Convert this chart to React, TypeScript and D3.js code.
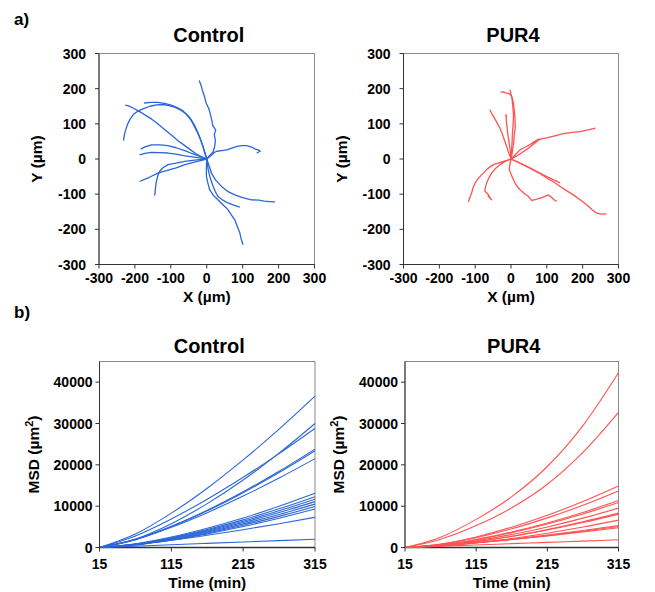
import React from 'react';
import * as d3 from 'd3';

// ---------- DATA ----------
const trackTicks = [-300, -200, -100, 0, 100, 200, 300];
const msdTimes = [15, 65, 115, 165, 215, 265, 315];
const msdTimeTicks = [15, 115, 215, 315];
const msdValueTicks = [0, 10000, 20000, 30000, 40000];

type P = [number, number];

const controlTracks: P[][] = [
  [[0,0],[8,10],[17,19],[22,35],[24,52],[21,70],[25,82],[17,95],[14,110],[9,132],[5,145],[-2,160],[-7,180],[-12,195],[-16,210],[-21,223]],
  [[0,0],[-15,6],[-30,15],[-45,26],[-61,38],[-80,52],[-96,66],[-108,76],[-125,90],[-140,103],[-154,114],[-170,124],[-182,132],[-191,137],[-205,145],[-218,151],[-227,153]],
  [[0,0],[-6,18],[-10,35],[-18,58],[-26,78],[-35,98],[-46,116],[-57,128],[-72,139],[-88,147],[-105,152],[-122,155],[-140,154],[-158,150],[-176,143],[-192,136],[-204,127],[-213,114],[-220,100],[-225,85],[-229,70],[-232,52]],
  [[0,0],[-4,15],[-10,33],[-16,52],[-24,71],[-33,90],[-43,109],[-55,125],[-66,137],[-82,146],[-99,153],[-118,158],[-136,161],[-155,161],[-168,160],[-175,159]],
  [[0,0],[-20,8],[-40,15],[-61,24],[-85,32],[-108,38],[-130,40],[-154,40],[-170,35],[-184,28]],
  [[0,0],[-20,3],[-40,6],[-61,9],[-85,14],[-108,17],[-130,18],[-154,19],[-172,16],[-187,12]],
  [[0,0],[-20,-5],[-40,-10],[-61,-16],[-85,-25],[-110,-32],[-136,-40],[-160,-52],[-187,-64]],
  [[0,0],[-20,-2],[-40,-4],[-61,-7],[-85,-12],[-108,-16],[-122,-25],[-131,-35],[-137,-50],[-141,-68],[-143,-85],[-145,-104]],
  [[0,0],[5,-15],[13,-40],[25,-60],[41,-78],[58,-92],[78,-102],[100,-110],[124,-116],[145,-117],[160,-120],[175,-121],[190,-122]],
  [[0,0],[2,-15],[4,-30],[10,-55],[18,-78],[24,-93],[31,-106],[45,-117],[59,-125],[75,-131],[92,-137]],
  [[0,0],[-1,-25],[-1,-49],[3,-68],[8,-87],[18,-103],[31,-116],[45,-130],[59,-144],[68,-158],[78,-173],[85,-192],[92,-210],[96,-228],[101,-244]],
  [[0,0],[12,10],[20,18],[28,22],[42,24],[56,26],[70,31],[84,36],[98,38],[111,38],[125,34],[135,28],[145,25],[149,22],[139,17]],
];

const pur4Tracks: P[][] = [
  [[0,0],[3,15],[5,31],[8,50],[9,69],[12,90],[11,117],[9,140],[6,164],[2,178],[-5,186],[-15,188],[-22,191],[-29,190]],
  [[0,0],[1,20],[3,45],[4,75],[6,100],[7,125],[5,150],[3,170],[0,185],[-3,197]],
  [[0,0],[-4,12],[-8,22],[-12,36],[-17,50],[-24,70],[-31,88],[-40,105],[-49,121],[-55,132],[-59,140]],
  [[0,0],[-2,22],[-5,45],[-8,65],[-11,90],[-13,110],[-14,126],[-12,118]],
  [[0,0],[12,12],[25,26],[40,34],[53,41],[72,53],[88,58],[100,60],[122,66],[146,72],[170,76],[193,78],[215,83],[236,88]],
  [[0,0],[15,8],[30,18],[45,28],[60,40],[72,50],[79,57],[70,52],[58,44]],
  [[0,0],[-25,-8],[-49,-16],[-66,-28],[-82,-45],[-92,-56],[-100,-68],[-106,-82],[-110,-97],[-115,-110],[-119,-122]],
  [[0,0],[-15,-6],[-31,-16],[-44,-28],[-54,-40],[-62,-54],[-68,-68],[-72,-82],[-73,-92],[-66,-98],[-63,-102],[-60,-108],[-54,-116],[-60,-110],[-65,-104]],
  [[0,0],[-3,-15],[-5,-30],[2,-48],[11,-68],[20,-82],[30,-92],[40,-100],[48,-106],[55,-114],[58,-118],[65,-116],[72,-114],[88,-109],[104,-102],[112,-108],[120,-116],[128,-121]],
  [[0,0],[20,-9],[44,-21],[66,-32],[90,-45],[110,-55],[125,-62],[137,-68]],
  [[0,0],[25,-12],[53,-26],[78,-40],[100,-54],[120,-66],[137,-78],[155,-90],[174,-102],[192,-115],[211,-130],[225,-143],[239,-154],[252,-157],[267,-156]],
];

const controlMsd: number[][] = [
  [0, 3260, 8310, 14350, 21190, 28620, 36600],
  [0, 2040, 5760, 10620, 16320, 22830, 30000],
  [0, 2800, 6910, 11690, 16990, 22720, 28800],
  [0, 1940, 5120, 9020, 13490, 18440, 23800],
  [0, 1900, 5030, 8870, 13270, 18130, 23400],
  [0, 1910, 4880, 8430, 12450, 16810, 21500],
  [0, 890, 2520, 4640, 7130, 9970, 13100],
  [0, 840, 2360, 4350, 6690, 9360, 12300],
  [0, 800, 2250, 4140, 6360, 8900, 11700],
  [0, 750, 2130, 3930, 6040, 8450, 11100],
  [0, 710, 2020, 3720, 5710, 7990, 10500],
  [0, 670, 1900, 3500, 5390, 7530, 9900],
  [0, 630, 1790, 3290, 5060, 7080, 9300],
  [0, 710, 1750, 2960, 4310, 5760, 7300],
  [0, 330, 670, 1000, 1330, 1670, 2000],
];

const pur4Msd: number[][] = [
  [0, 2500, 6800, 12300, 19600, 29500, 42300],
  [0, 2000, 5300, 9600, 15300, 23000, 32700],
  [0, 850, 2560, 4920, 7790, 11130, 14900],
  [0, 780, 2360, 4520, 7170, 10230, 13700],
  [0, 650, 1950, 3750, 5940, 8480, 11350],
  [0, 620, 1870, 3590, 5690, 8120, 10870],
  [0, 540, 1640, 3140, 4980, 7110, 9520],
  [0, 470, 1430, 2740, 4350, 6210, 8310],
  [0, 460, 1390, 2660, 4220, 6030, 8070],
  [0, 380, 1140, 2180, 3460, 4950, 6620],
  [0, 430, 1140, 2010, 3010, 4120, 5310],
  [0, 410, 1090, 1920, 2870, 3930, 5070],
  [0, 460, 1140, 1930, 2810, 3760, 4760],
  [0, 310, 620, 930, 1240, 1550, 1860],
];

// ---------- STYLE ----------
const BLUE = '#2a66d8';
const RED = '#ff5252';
const FONT = 'Arial, "Liberation Sans", sans-serif';
const BOX = '#8a8a8a';
const AXIS = '#333333';

type Box = { left: number; right: number; top: number; bottom: number };

function Frame({ b, bottomWidth = 1 }: { b: Box; bottomWidth?: number }) {
  return (
    <g>
      <rect x={b.left} y={b.top} width={b.right - b.left} height={b.bottom - b.top} fill="none" stroke={BOX} strokeWidth={1} />
      <line x1={b.left} x2={b.left} y1={b.top} y2={b.bottom} stroke={AXIS} strokeWidth={1} />
      <line x1={b.left} x2={b.right} y1={b.bottom} y2={b.bottom} stroke={AXIS} strokeWidth={bottomWidth} />
    </g>
  );
}

function TrackPanel({ b, tracks, color, title }: { b: Box; tracks: P[][]; color: string; title: string }) {
  const x = d3.scaleLinear().domain([-300, 300]).range([b.left, b.right]);
  const y = d3.scaleLinear().domain([-300, 300]).range([b.bottom, b.top]);
  const line = d3.line<P>().x(d => x(d[0])).y(d => y(d[1]));
  const cx = (b.left + b.right) / 2;
  const cy = (b.top + b.bottom) / 2;
  return (
    <g>
      <Frame b={b} />
      {tracks.map((t, i) => (
        <path key={i} d={line(t) || ''} fill="none" stroke={color} strokeWidth={1.3} strokeLinejoin="round" />
      ))}
      {trackTicks.map(v => (
        <g key={'x' + v}>
          <line x1={x(v)} x2={x(v)} y1={b.bottom} y2={b.bottom + 4} stroke={AXIS} />
          <text x={x(v)} y={b.bottom + 18} textAnchor="middle" fontFamily={FONT} fontWeight="bold" fontSize={14}>{v}</text>
        </g>
      ))}
      {trackTicks.map(v => (
        <g key={'y' + v}>
          <line x1={b.left - 4} x2={b.left} y1={y(v)} y2={y(v)} stroke={AXIS} />
          <text x={b.left - 13} y={y(v) + 5} textAnchor="end" fontFamily={FONT} fontWeight="bold" fontSize={14}>{v}</text>
        </g>
      ))}
      <text x={cx + 2} y={b.top - 12} textAnchor="middle" fontFamily={FONT} fontWeight="bold" fontSize={20}>{title}</text>
      <text x={cx} y={b.bottom + 37} textAnchor="middle" fontFamily={FONT} fontWeight="bold" fontSize={15.5}>X (µm)</text>
      <text transform={`translate(${b.left - 57},${cy}) rotate(-90)`} textAnchor="middle" fontFamily={FONT} fontWeight="bold" fontSize={15.5}>Y (µm)</text>
    </g>
  );
}

function MsdPanel({ b, series, color, title }: { b: Box; series: number[][]; color: string; title: string }) {
  const x = d3.scaleLinear().domain([15, 315]).range([b.left, b.right]);
  const y = d3.scaleLinear().domain([0, 45000]).range([b.bottom, b.top]);
  const line = d3.line<number>().x((_, i) => x(msdTimes[i])).y(d => y(d)).curve(d3.curveMonotoneX);
  const cx = (b.left + b.right) / 2;
  const cy = (b.top + b.bottom) / 2;
  return (
    <g>
      <Frame b={b} bottomWidth={1.5} />
      {series.map((s, i) => (
        <path key={i} d={line(s) || ''} fill="none" stroke={color} strokeWidth={1.1} />
      ))}
      {msdTimeTicks.map(v => (
        <g key={'x' + v}>
          <line x1={x(v)} x2={x(v)} y1={b.bottom} y2={b.bottom + 4} stroke={AXIS} />
          <text x={x(v)} y={b.bottom + 21} textAnchor="middle" fontFamily={FONT} fontWeight="bold" fontSize={14}>{v}</text>
        </g>
      ))}
      {msdValueTicks.map(v => (
        <g key={'y' + v}>
          <line x1={b.left - 4} x2={b.left} y1={y(v)} y2={y(v)} stroke={AXIS} />
          <text x={b.left - 7} y={y(v) + 5} textAnchor="end" fontFamily={FONT} fontWeight="bold" fontSize={14}>{v}</text>
        </g>
      ))}
      <text x={cx + 2} y={b.top - 9} textAnchor="middle" fontFamily={FONT} fontWeight="bold" fontSize={20}>{title}</text>
      <text x={cx} y={b.bottom + 40} textAnchor="middle" fontFamily={FONT} fontWeight="bold" fontSize={15.5}>Time (min)</text>
      <text transform={`translate(${b.left - 61},${cy}) rotate(-90)`} textAnchor="middle" fontFamily={FONT} fontWeight="bold" fontSize={15.5}>
        MSD (µm<tspan dy={-6} fontSize={11}>2</tspan><tspan dy={6}>)</tspan>
      </text>
    </g>
  );
}

export default function App() {
  const tl: Box = { left: 99, right: 314.5, top: 53.5, bottom: 264.5 };
  const tr: Box = { left: 403.5, right: 618.5, top: 53.5, bottom: 264.5 };
  const bl: Box = { left: 99.5, right: 315, top: 361.5, bottom: 547.5 };
  const br: Box = { left: 405, right: 618.5, top: 361.5, bottom: 547.5 };
  return (
    <svg width={655} height={592} style={{ position: 'absolute', left: 0, top: 0, background: '#fff' }}>
      <rect width={655} height={592} fill="#fff" />
      <text x={14} y={25} fontFamily={FONT} fontWeight="bold" fontSize={17}>a)</text>
      <text x={14} y={318} fontFamily={FONT} fontWeight="bold" fontSize={17}>b)</text>
      <TrackPanel b={tl} tracks={controlTracks} color={BLUE} title="Control" />
      <TrackPanel b={tr} tracks={pur4Tracks} color={RED} title="PUR4" />
      <MsdPanel b={bl} series={controlMsd} color={BLUE} title="Control" />
      <MsdPanel b={br} series={pur4Msd} color={RED} title="PUR4" />
    </svg>
  );
}
